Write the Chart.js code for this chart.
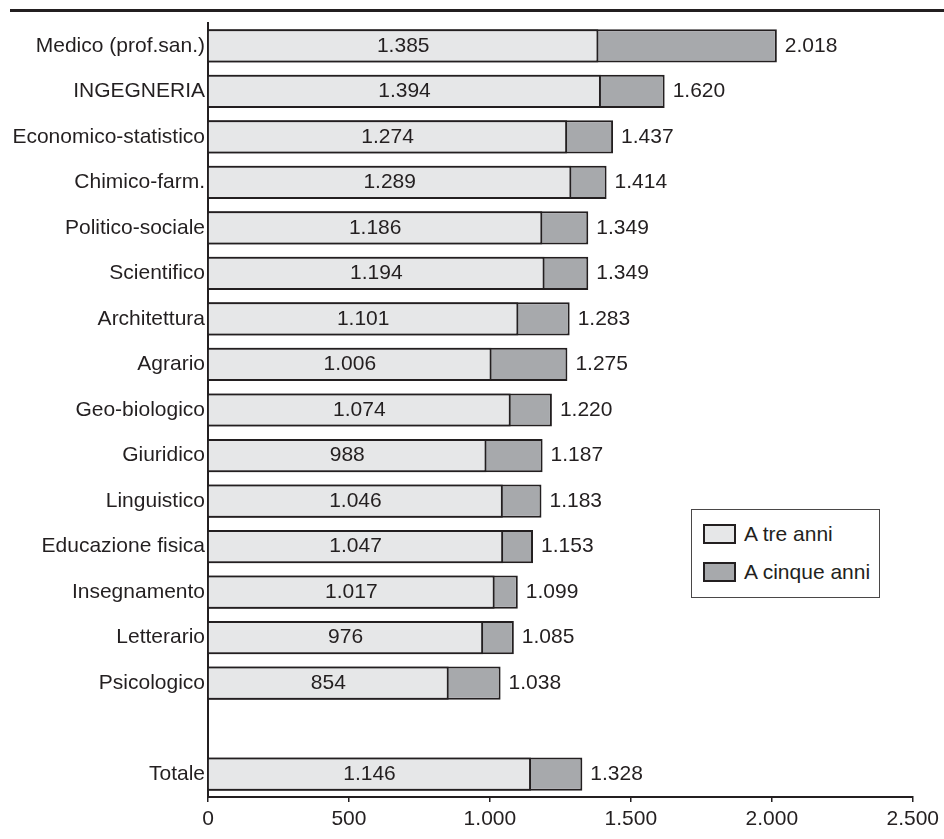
<!DOCTYPE html>
<html lang="it">
<head>
    <meta charset="UTF-8">
    <title>Laureati per gruppo di corso</title>
    <script src="https://cdn.jsdelivr.net/npm/chart.js@4.4.1/dist/chart.umd.min.js"></script>
    <style>
        body {
            margin: 0;
            padding: 0;
            background-color: #ffffff;
            font-family: "Liberation Sans", Arial, sans-serif;
        }
        .wrap {
            position: relative;
            width: 944px;
            height: 839px;
        }
        .legend {
            position: absolute;
            left: 691px;
            top: 509px;
            width: 189px;
            height: 89px;
            border: 1px solid #4a4748;
            box-sizing: border-box;
            background: #fff;
            color: #231f20;
            font-size: 21px;
        }
        .legend .item {
            position: absolute;
            left: 11px;
            display: flex;
            align-items: center;
        }
        .legend .swatch {
            width: 29px;
            height: 16px;
            border: 2px solid #231f20;
            margin-right: 8px;
        }
    </style>
</head>
<body>
    <div class="wrap">
        <canvas id="chart" width="944" height="839"></canvas>
        <div class="legend" id="legend"></div>
    </div>

    <script>
        // Dati
        const categories = [
            'Medico (prof.san.)', 'INGEGNERIA', 'Economico-statistico', 'Chimico-farm.',
            'Politico-sociale', 'Scientifico', 'Architettura', 'Agrario', 'Geo-biologico',
            'Giuridico', 'Linguistico', 'Educazione fisica', 'Insegnamento', 'Letterario',
            'Psicologico', '', 'Totale'
        ];
        const aTreAnni = [1385, 1394, 1274, 1289, 1186, 1194, 1101, 1006, 1074, 988, 1046, 1047, 1017, 976, 854, null, 1146];
        const aCinqueAnni = [2018, 1620, 1437, 1414, 1349, 1349, 1283, 1275, 1220, 1187, 1183, 1153, 1099, 1085, 1038, null, 1328];
        const seriesNames = ['A tre anni', 'A cinque anni'];
        const xTicks = [0, 500, 1000, 1500, 2000, 2500];

        const ink = '#231f20';
        const lightFill = '#e6e7e8';
        const darkFill = '#a7a9ac';

        // separatore delle migliaia con il punto
        function fmt(v) {
            return String(v).replace(/\B(?=(\d{3})+(?!\d))/g, '.');
        }

        Chart.defaults.font.family = '"Liberation Sans", Arial, sans-serif';
        Chart.defaults.font.size = 21;
        Chart.defaults.color = ink;

        // linea orizzontale in alto + etichette valori
        const decorPlugin = {
            id: 'decor',
            afterDraw(chart) {
                const ctx = chart.ctx;
                ctx.save();
                ctx.fillStyle = ink;
                ctx.fillRect(10, 9, chart.width - 10, 3);

                ctx.font = '21px "Liberation Sans", Arial, sans-serif';
                ctx.textBaseline = 'middle';
                const xs = chart.scales.x;
                const ys = chart.scales.y;
                categories.forEach((c, i) => {
                    if (aTreAnni[i] == null) return;
                    const y = ys.getPixelForValue(i);
                    ctx.textAlign = 'center';
                    const x0 = xs.getPixelForValue(0);
                    const x1 = xs.getPixelForValue(aTreAnni[i]);
                    ctx.fillText(fmt(aTreAnni[i]), (x0 + x1) / 2, y);
                    ctx.textAlign = 'left';
                    ctx.fillText(fmt(aCinqueAnni[i]), xs.getPixelForValue(aCinqueAnni[i]) + 8, y);
                });
                ctx.restore();
            }
        };

        const chart = new Chart(document.getElementById('chart'), {
            type: 'bar',
            data: {
                labels: categories,
                datasets: [
                    {
                        label: seriesNames[0],
                        data: aTreAnni,
                        backgroundColor: lightFill,
                        borderColor: ink,
                        borderWidth: 2,
                        grouped: false,
                        categoryPercentage: 1,
                        barPercentage: 0.73
                    },
                    {
                        label: seriesNames[1],
                        data: aCinqueAnni,
                        backgroundColor: darkFill,
                        borderColor: ink,
                        borderWidth: 2,
                        grouped: false,
                        categoryPercentage: 1,
                        barPercentage: 0.73
                    }
                ]
            },
            options: {
                indexAxis: 'y',
                responsive: false,
                animation: false,
                layout: { padding: { left: 0, right: 31, top: 23, bottom: 0 } },
                plugins: {
                    legend: { display: false },
                    tooltip: { enabled: false }
                },
                scales: {
                    x: {
                        min: 0,
                        max: 2500,
                        afterBuildTicks(scale) {
                            scale.ticks = xTicks.map(v => ({ value: v }));
                        },
                        afterFit(scale) { scale.height = 42; },
                        grid: { drawOnChartArea: false, drawTicks: true, tickLength: 5, color: ink, lineWidth: 1.5 },
                        border: { color: ink, width: 2 },
                        ticks: {
                            padding: 5,
                            maxRotation: 0,
                            color: ink,
                            callback: v => fmt(v)
                        }
                    },
                    y: {
                        afterFit(scale) { scale.width = 208; },
                        grid: { display: false, drawTicks: false },
                        border: { color: ink, width: 2 },
                        ticks: { padding: 3, color: ink, autoSkip: false }
                    }
                }
            },
            plugins: [decorPlugin]
        });

        // legenda
        const legend = document.getElementById('legend');
        const fills = [lightFill, darkFill];
        seriesNames.forEach((name, i) => {
            const item = document.createElement('div');
            item.className = 'item';
            item.style.top = (12 + i * 38) + 'px';
            item.innerHTML = '<div class="swatch" style="background:' + fills[i] + '"></div><span>' + name + '</span>';
            legend.appendChild(item);
        });
    </script>
</body>
</html>
